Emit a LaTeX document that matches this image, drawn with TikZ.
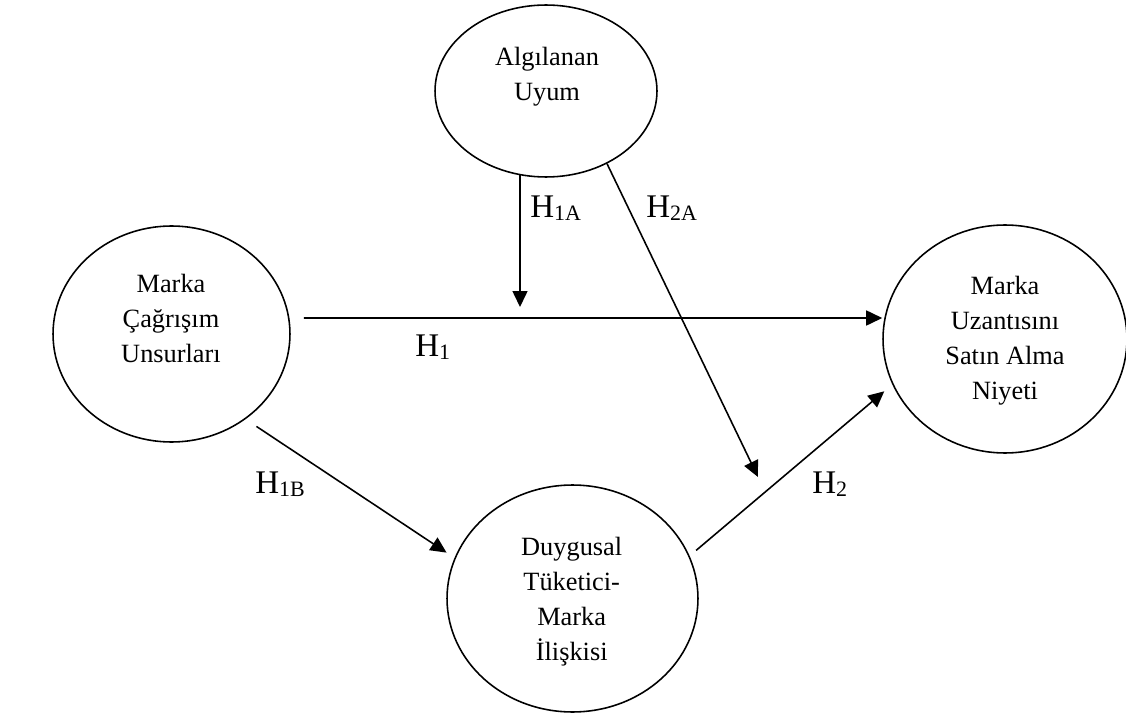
\documentclass[tikz,border=0pt]{standalone}
\usepackage{fontspec}
\setmainfont{Liberation Serif}
\usetikzlibrary{shapes.geometric, arrows.meta, calc}

\newcommand{\hsub}[1]{H\raisebox{-0.06cm}{\fontsize{12.5}{12.5}\selectfont #1}}

\begin{document}
\begin{tikzpicture}[x=0.02cm, y=-0.02cm]
    \tikzstyle{construct} = [ellipse, draw=black, line width=0.9pt, inner sep=0pt]
    \tikzstyle{nodetext} = [align=center, inner sep=0pt, font=\fontsize{15}{19.9}\selectfont]
    \tikzstyle{hyplabel} = [anchor=base west, inner sep=0pt, font=\fontsize{18.8}{22}\selectfont]
    \tikzstyle{arrow} = [line width=0.9pt, -{Triangle[length=0.32cm, width=0.3cm]}]

    \fill[white] (0,0) rectangle (1126,716);
    \useasboundingbox (0,0) rectangle (1126,716);

    \node (uyum) [construct, minimum width=4.44cm, minimum height=3.44cm] at (546,91) {};
    \node (cagri) [construct, minimum width=4.74cm, minimum height=4.32cm] at (171.5,334) {};
    \node (niyet) [construct, minimum width=4.88cm, minimum height=4.56cm] at (1005,339) {};
    \node (duygu) [construct, minimum width=5.02cm, minimum height=4.54cm] at (572.5,598.5) {};

    \node (uyumtext) [nodetext] at (547,76.7) {Algılanan\\Uyum};
    \node (cagritext) [nodetext] at (171,318.5) {Marka\\Çağrışım\\Unsurları};
    \node (niyettext) [nodetext] at (1005,340.7) {Marka\\Uzantısını\\Satın Alma\\Niyeti};
    \node (duygutext) [nodetext] at (571.7,601.5) {Duygusal\\Tüketici-\\Marka\\İlişkisi};

    % free ends of the moderating paths
    \coordinate (h1aend) at (520,307);
    \coordinate (h2aend) at (758,477);

    \draw [arrow] ([shift={(0.26cm,0.32cm)}]cagri.east) -- ([yshift=0.42cm]niyet.west);
    \draw [arrow] (uyum.252.7 -| h1aend) -- (h1aend);
    \draw [arrow] (uyum.-50.4) -- (h2aend);
    \draw [arrow, shorten <=0.26cm, shorten >=0.19cm] (cagri.-49.6) -- (duygu.161);
    \draw [arrow, shorten <=0.17cm, shorten >=0.21cm] (duygu.20.1) -- (niyet.-158.1);

    \node (lh1a) [hyplabel] at (530,218) {\hsub{1A}};
    \node (lh2a) [hyplabel] at (646,218) {\hsub{2A}};
    \node (lh1) [hyplabel] at (415,357) {\hsub{1}};
    \node (lh1b) [hyplabel] at (255,493) {\hsub{1B}};
    \node (lh2) [hyplabel] at (812,493) {\hsub{2}};
\end{tikzpicture}
\end{document}
